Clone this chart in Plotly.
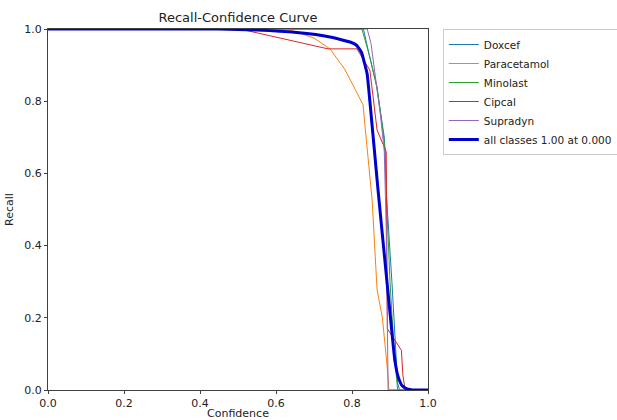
import plotly.graph_objects as go

# ---- data ----
names = ["Doxcef", "Paracetamol", "Minolast", "Cipcal", "Supradyn"]
colors = ["#1f77b4", "#ff7f0e", "#2ca02c", "#d62728", "#9467bd"]

doxcef_conf = [0.0, 0.83, 0.845, 0.865, 0.885, 0.89, 0.905, 0.915, 0.92, 0.925, 1.0]
doxcef_rec = [1.0, 1.0, 0.93, 0.84, 0.70, 0.55, 0.30, 0.12, 0.02, 0.0, 0.0]

para_conf = [0.0, 0.60, 0.645, 0.70, 0.742, 0.78, 0.80, 0.82, 0.829, 0.834, 0.853, 0.866, 0.88, 0.893, 0.897, 1.0]
para_rec = [1.0, 1.0, 0.995, 0.975, 0.945, 0.89, 0.85, 0.81, 0.79, 0.734, 0.526, 0.277, 0.20, 0.06, 0.0, 0.0]

mino_conf = [0.0, 0.826, 0.845, 0.866, 0.887, 0.892, 0.90, 0.91, 0.92, 1.0]
mino_rec = [1.0, 1.0, 0.93, 0.84, 0.67, 0.50, 0.30, 0.12, 0.0, 0.0]

cip_conf = [0.0, 0.505, 0.737, 0.813, 0.847, 0.866, 0.89, 0.893, 0.93, 0.934, 0.94, 1.0]
cip_rec = [1.0, 1.0, 0.945, 0.945, 0.886, 0.72, 0.66, 0.17, 0.11, 0.04, 0.0, 0.0]

supra_conf = [0.0, 0.84, 0.85, 0.86, 0.875, 0.885, 0.89, 0.893, 0.895, 1.0]
supra_rec = [1.0, 1.0, 0.96, 0.88, 0.76, 0.66, 0.45, 0.20, 0.0, 0.0]

all_conf = [0.0, 0.45, 0.55, 0.655, 0.742, 0.795, 0.812, 0.825, 0.833, 0.84, 0.847,
            0.868, 0.892, 0.905, 0.913, 0.922, 0.932, 0.945, 0.96, 1.0]
all_rec = [1.0, 1.0, 0.997, 0.99, 0.978, 0.964, 0.955, 0.935, 0.905, 0.875, 0.80,
           0.56, 0.30, 0.16, 0.08, 0.035, 0.012, 0.003, 0.0, 0.0]

x_ticks = [0.0, 0.2, 0.4, 0.6, 0.8, 1.0]
y_ticks = [0.0, 0.2, 0.4, 0.6, 0.8, 1.0]

series = [
    (doxcef_conf, doxcef_rec),
    (para_conf, para_rec),
    (mino_conf, mino_rec),
    (cip_conf, cip_rec),
    (supra_conf, supra_rec),
]

fig = go.Figure()
for (cx, ry), n, c in zip(series, names, colors):
    fig.add_trace(go.Scatter(x=cx, y=ry, mode="lines", name=n,
                             line=dict(color=c, width=1)))
fig.add_trace(go.Scatter(x=all_conf, y=all_rec, mode="lines",
                         name="all classes 1.00 at 0.000",
                         line=dict(color="#0000cc", width=3, shape="spline", smoothing=0.4)))

font = "DejaVu Sans, sans-serif"
axis_common = dict(
    range=[0, 1], showgrid=False, zeroline=False, showline=True,
    linecolor="#404040", linewidth=1, mirror=True, ticks="outside",
    ticklen=3, tickcolor="#404040", tickfont=dict(size=11, color="#222"),
    tickformat=".1f",
)
fig.update_xaxes(**axis_common, tickvals=x_ticks,
                 title=dict(text="Confidence", font=dict(size=11, color="#222"), standoff=0))
fig.update_yaxes(**axis_common, tickvals=y_ticks,
                 title=dict(text="Recall", font=dict(size=11, color="#222"), standoff=8))

fig.update_layout(
    width=617, height=420,
    margin=dict(l=48, r=189, t=29, b=30, autoexpand=False),
    paper_bgcolor="white", plot_bgcolor="white",
    font=dict(family=font, size=11, color="#222"),
    title=dict(text="Recall-Confidence Curve", x=(48 + 190) / 617, xanchor="center",
               y=1 - 17 / 420, yanchor="middle", font=dict(size=13, color="#222")),
    legend=dict(x=1.039, xanchor="left", y=1.0, yanchor="top",
                bgcolor="white", bordercolor="#cccccc", borderwidth=1,
                font=dict(size=10.5, color="#222"), tracegroupgap=0, itemwidth=30),
    showlegend=True,
)

fig.write_html("out.html")
